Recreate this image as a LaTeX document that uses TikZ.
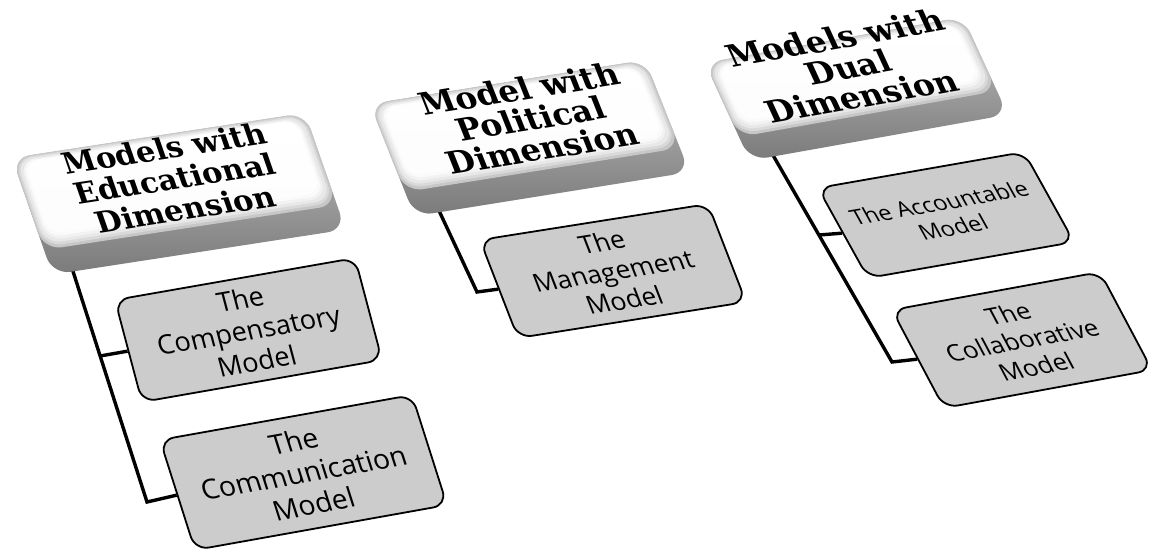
\documentclass[tikz,border=0pt]{standalone}
\usepackage{fontspec}
\newfontfamily\headfont{DejaVu Serif}
\newfontfamily\boxfont{Open Sans}
\begin{document}
\begin{tikzpicture}[x=0.5pt,y=-0.5pt,
  % local frame: origin (#1,#2), top edge vector (#3,#4), side edge vector (#5,#6)
  persp/.code n args={6}{%
    \pgfmathsetmacro\pwA{veclen(#3,#4)}%
    \pgfmathsetmacro\pwB{veclen(#5,#6)}%
    \pgfmathsetmacro\pmA{(#3)/\pwA}%
    \pgfmathsetmacro\pmB{-(#4)/\pwA}%
    \pgfmathsetmacro\pmC{-(#5)/\pwB}%
    \pgfmathsetmacro\pmD{(#6)/\pwB}%
    \tikzset{shift={(#1,#2)}, cm={\pmA,\pmB,\pmC,\pmD,(0,0)}}%
  },
  childbox/.style={draw=black, line width=0.9pt, fill=black!20,
    rounded corners=7pt, transform shape, align=center, inner sep=0pt,
    text=black, minimum width={\pwA*0.5pt}, minimum height={\pwB*0.5pt}},
  headtext/.style={transform shape, align=center, inner sep=0pt, text=black},
  trunk/.style={line width=1.7pt, black, line join=miter},
]
% a raised key: darker side band below a bevelled white top face
\newcommand\drawkey{%
  \shade[top color=black!25, bottom color=black!52, rounded corners=9pt]
    (0,0) rectangle (\pwA,\pwB+26);
  \fill[black!22, rounded corners=9pt] (0,0) rectangle (\pwA,\pwB);
  \fill[black!15, rounded corners=9pt] (1.5,1) rectangle (\pwA-2,\pwB-3);
  \fill[black!9, rounded corners=8pt] (3.5,2.5) rectangle (\pwA-4,\pwB-6);
  \fill[black!5, rounded corners=8pt] (6,4) rectangle (\pwA-7,\pwB-9);
  \fill[black!2, rounded corners=7pt] (8,5) rectangle (\pwA-9,\pwB-12);
  \shade[top color=white, bottom color=black!1, rounded corners=7pt]
    (10,6) rectangle (\pwA-11,\pwB-15);
}
\fill[white] (0,0) rectangle (1155,552);
\useasboundingbox (0,0) rectangle (1155,552);

% child boxes
\begin{scope}[persp={115}{300}{240}{-42}{27}{102}]
  \node[childbox, font=\boxfont\fontsize{13.5}{16}\selectfont] (comp)
    at ({\pwA/2},{\pwB/2}) {The\\Compensatory\\Model};
\end{scope}
\begin{scope}[persp={160}{440}{252}{-45}{35}{110}]
  \node[childbox, font=\boxfont\fontsize{14}{16.5}\selectfont] (comm)
    at ({\pwA/2},{\pwB/2}) {The\\Communication\\Model};
\end{scope}
\begin{scope}[persp={480}{240}{228}{-36}{38}{98}]
  \node[childbox, font=\boxfont\fontsize{13}{15.5}\selectfont] (mgmt)
    at ({\pwA/2},{\pwB/2}) {The\\Management\\Model};
\end{scope}
\begin{scope}[persp={818}{188}{206}{-36}{50}{90}]
  \node[childbox, font=\boxfont\fontsize{11.5}{14}\selectfont] (acct)
    at ({\pwA/2},{\pwB/2}) {The Accountable\\Model};
\end{scope}
\begin{scope}[persp={892}{310}{208}{-38}{52}{98}]
  \node[childbox, font=\boxfont\fontsize{12.5}{15}\selectfont] (collab)
    at ({\pwA/2},{\pwB/2}) {The\\Collaborative\\Model};
\end{scope}

% connectors
\coordinate (t1top) at (70,262);
\coordinate (t1a) at (100,356);
\coordinate (t1b) at (147,502);
\coordinate (t2top) at (434,200);
\coordinate (t2b) at (477,292);
\coordinate (t3top) at (770,150);
\coordinate (t3a) at (819,235);
\coordinate (t3b) at (892,362);
\draw[trunk] (t1top) -- (t1b) -- (comm.west);
\draw[trunk] (t1a) -- (comp.west);
\draw[trunk] (t2top) -- (t2b) -- (mgmt.west);
\draw[trunk] (t3top) -- (t3b) -- (collab.west);
\draw[trunk] (t3a) -- (acct.west);

% header keys
\begin{scope}[persp={12}{158}{293}{-45}{32}{92}]
  \drawkey
  \node[headtext, font=\headfont\bfseries\fontsize{15}{16}\selectfont] (h1)
    at ({0.503*\pwA},{0.47*\pwB}) {Models with\\Educational\\Dimension};
\end{scope}
\begin{scope}[persp={370}{104}{275}{-44}{35}{88}]
  \drawkey
  \node[headtext, font=\headfont\bfseries\fontsize{16}{16}\selectfont] (h2)
    at ({0.529*\pwA},{0.43*\pwB}) {Model with\\Political\\Dimension};
\end{scope}
\begin{scope}[persp={705}{63}{258}{-46}{34}{74}]
  \drawkey
  \node[headtext, font=\headfont\bfseries\fontsize{16}{16}\selectfont] (h3)
    at ({0.506*\pwA},{0.368*\pwB}) {Models with\\Dual\\Dimension};
\end{scope}
\end{tikzpicture}
\end{document}
